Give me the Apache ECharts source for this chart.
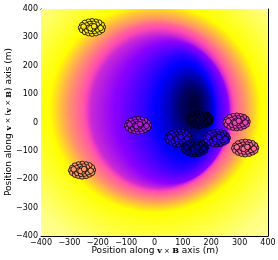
<!DOCTYPE html>
<html><head><meta charset="utf-8">
<script src="https://cdn.jsdelivr.net/npm/echarts@6/dist/echarts.min.js"></script>
<style>html,body{margin:0;padding:0;background:#fff}#c{width:278px;height:260px}</style>
</head><body><div id="c"></div>
<script>
// Field contours (colormap level, centre, radii in m)
const contourLevel = [0.99, 0.96, 0.92, 0.80, 0.70, 0.60, 0.50, 0.42, 0.30, 0.18, 0.10, 0.06];
const contourCx    = [0,    0,    2,    5,    8,    14,   22,   60,   95,   125,  132,  140];
const contourCy    = [30,   40,   50,   48,   45,   48,   40,   35,   38,   45,   55,   60];
const contourRx    = [820,  530,  372,  338,  308,  269,  245,  200,  125,  75,   40,   10];
const contourRy    = [820,  530,  368,  340,  317,  296,  270,  248,  200,  125,  70,   25];

// Station centres (m) and the colour level of their antenna markers
const stationX = [-220, -58, -255, 160, 85, 220, 143, 290, 320];
const stationY = [335, -10, -168, 10, -55, -55, -90, 2, -90];
const stationLevel = [0.88, 0.47, 0.72, 0.08, 0.30, 0.32, 0.16, 0.55, 0.63];
// Antenna layout offsets within a station (m)
const antennaDx = [38,34,25,13,0,-13,-26,-35,-39,-35,-25,-13,0,14,26,35, 24,17,5,-8,-19,-25,-17,-4,9,20, 10,-1,-11,1, 30,-30,-6,7];
const antennaDy = [1,10,17,20,22,20,16,8,-1,-9,-16,-20,-22,-20,-15,-9, 2,10,13,12,7,-3,-10,-13,-12,-7, 2,5,-1,-5, -2,3,-3,4];
// Shower core
const coreX = [0];
const coreY = [0];
const tickValues = [-400, -300, -200, -100, 0, 100, 200, 300, 400];
const xTitle = '{n|Position along }{b|v}{m| × }{b|B}{n| axis (m)}';
const yTitle = '{n|Position along }{b|v}{m| × (}{b|v}{m| × }{b|B}{n|) axis (m)}';

function clip01(v){ return Math.max(0, Math.min(1, v)); }
function gnuplot2(x){
  const r = clip01(x/0.32 - 0.78125);
  const g = clip01(2*x - 0.84);
  let b;
  if (x < 0.25) b = 4*x; else if (x < 0.42) b = 1; else if (x < 0.92) b = -2*x + 1.84; else b = x/0.08 - 11.5;
  b = clip01(b);
  return 'rgb(' + Math.round(r*255) + ',' + Math.round(g*255) + ',' + Math.round(b*255) + ')';
}

const antennaData = [];
for (let s = 0; s < stationX.length; s++) {
  for (let k = 0; k < antennaDx.length; k++) {
    antennaData.push({value: [stationX[s] + antennaDx[k], stationY[s] + antennaDy[k]],
      itemStyle: {color: gnuplot2(stationLevel[s])}});
  }
}
const coreData = coreX.map((x, i) => [x, coreY[i]]);
const contourData = contourLevel.map((v, i) => [contourCx[i], contourCy[i], i]);
const n = contourLevel.length;

function fmt(v){ return v < 0 ? '\u2212' + Math.abs(v) : String(v); }

const chart = echarts.init(document.getElementById('c'), null, {renderer: 'canvas'});
const axisCommon = {
  type: 'value', min: -400, max: 400, interval: 100,
  axisLine: {show: true, onZero: false, lineStyle: {color: '#000', width: 1}},
  axisTick: {show: true, inside: true, length: 4, lineStyle: {color: '#000', width: 0.8}},
  splitLine: {show: false},
};
const labelStyle = {fontFamily: 'DejaVu Sans', fontSize: 8, color: '#000', formatter: fmt};
const nameRich = {
  n: {fontFamily: 'DejaVu Sans', fontSize: 9, color: '#000'},
  b: {fontFamily: 'DejaVu Serif', fontWeight: 'bold', fontSize: 8, color: '#000'},
  m: {fontFamily: 'DejaVu Sans', fontSize: 7, color: '#000'}
};
chart.setOption({
  animation: false,
  grid: {left: 41, top: 9, width: 227, height: 227, containLabel: false, outerBoundsMode: 'none'},
  graphic: [
    {type: 'text', x: 155, y: 251, silent: true,
     style: {text: xTitle, rich: nameRich, align: 'center', verticalAlign: 'middle'}},
    {type: 'text', x: 8.5, y: 122, rotation: Math.PI / 2, silent: true,
     style: {text: yTitle, rich: nameRich, align: 'center', verticalAlign: 'middle'}}
  ],
  xAxis: [
    Object.assign({}, axisCommon, {position: 'bottom',
      axisLabel: Object.assign({margin: 3}, labelStyle)}),
    Object.assign({}, axisCommon, {position: 'top', axisLabel: {show: false}})
  ],
  yAxis: [
    Object.assign({}, axisCommon, {position: 'left',
      axisLabel: Object.assign({margin: 3}, labelStyle)}),
    Object.assign({}, axisCommon, {position: 'right', axisLabel: {show: false}})
  ],
  series: [
    {
      type: 'custom', clip: true, silent: true, z: 1,
      data: contourData,
      encode: {x: 0, y: 1},
      renderItem: function (params, api) {
        const i = params.dataIndex;
        const j = Math.min(i + 1, n - 1);
        const steps = i < n - 1 ? 14 : 1;
        const children = [];
        for (let s = 0; s < steps; s++) {
          const t = s / steps;
          const L = contourLevel[i] + (contourLevel[j] - contourLevel[i]) * t;
          const cx = contourCx[i] + (contourCx[j] - contourCx[i]) * t;
          const cy = contourCy[i] + (contourCy[j] - contourCy[i]) * t;
          const rx = contourRx[i] + (contourRx[j] - contourRx[i]) * t;
          const ry = contourRy[i] + (contourRy[j] - contourRy[i]) * t;
          const pts = [];
          for (let k = 0; k < 90; k++) {
            const a = k / 90 * 2 * Math.PI;
            pts.push(api.coord([cx + rx * Math.cos(a), cy + ry * Math.sin(a)]));
          }
          children.push({type: 'polygon', shape: {points: pts}, style: {fill: gnuplot2(L), stroke: gnuplot2(L), lineWidth: 0.5}});
        }
        return {type: 'group', children: children};
      }
    },
    {
      type: 'scatter', z: 3, data: antennaData, symbol: 'circle', symbolSize: 5.5,
      itemStyle: {borderColor: '#000', borderWidth: 0.8, opacity: 1}
    },
    {
      type: 'scatter', z: 4, data: coreData,
      symbol: 'path://M4,0h2v4h4v2h-4v4h-2v-4h-4v-2h4z', symbolSize: 5,
      itemStyle: {color: '#0000ff'}
    }
  ]
});
</script></body></html>
